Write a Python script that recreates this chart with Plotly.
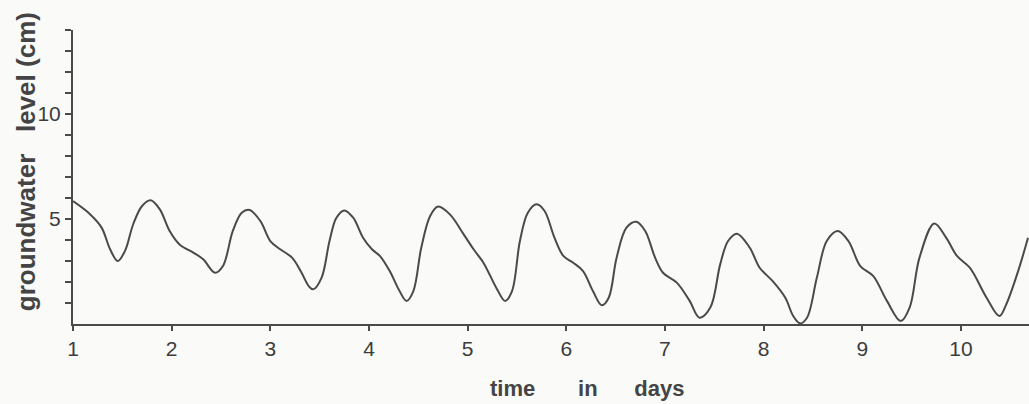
import plotly.graph_objects as go

# groundwater level (days, cm)
days = [1.00, 1.17, 1.29, 1.375, 1.453, 1.527, 1.61, 1.70, 1.787, 1.88,
        1.98, 2.08, 2.22, 2.32, 2.44, 2.52, 2.62, 2.71, 2.79, 2.90,
        3.00, 3.10, 3.22, 3.31, 3.39, 3.435, 3.52, 3.60, 3.67, 3.75,
        3.84, 3.94, 4.03, 4.11, 4.21, 4.31, 4.38, 4.45, 4.53, 4.62,
        4.70, 4.82, 4.96, 5.06, 5.16, 5.29, 5.38, 5.45, 5.53, 5.61,
        5.70, 5.78, 5.88, 5.97, 6.07, 6.17, 6.27, 6.36, 6.43, 6.51,
        6.61, 6.71, 6.80, 6.90, 6.98, 7.12, 7.25, 7.35, 7.46, 7.56,
        7.64, 7.73, 7.86, 7.96, 8.09, 8.22, 8.30, 8.37, 8.44, 8.54,
        8.64, 8.75, 8.86, 8.98, 9.11, 9.25, 9.39, 9.48, 9.58, 9.73,
        9.85, 9.96, 10.09, 10.26, 10.39, 10.46, 10.58, 10.68]
level = [5.85, 5.24, 4.59, 3.57, 3.00, 3.48, 4.75, 5.62, 5.89, 5.46,
         4.43, 3.79, 3.40, 3.08, 2.44, 2.76, 4.43, 5.30, 5.43, 4.90,
         3.95, 3.56, 3.16, 2.50, 1.80, 1.65, 2.21, 3.95, 5.06, 5.41,
         5.06, 4.11, 3.56, 3.24, 2.52, 1.57, 1.10, 1.57, 3.63, 5.14,
         5.59, 5.22, 4.27, 3.56, 2.92, 1.73, 1.10, 1.57, 3.95, 5.30,
         5.70, 5.38, 4.11, 3.24, 2.92, 2.52, 1.57, 0.89, 1.25, 3.16,
         4.59, 4.87, 4.43, 3.16, 2.44, 1.97, 1.10, 0.30, 0.78, 2.84,
         3.95, 4.30, 3.63, 2.68, 2.05, 1.25, 0.38, 0.03, 0.30, 2.21,
         3.95, 4.43, 3.95, 2.76, 2.29, 1.10, 0.14, 0.78, 3.16, 4.79,
         4.11, 3.24, 2.68, 1.25, 0.38, 0.94, 2.52, 4.11]

x_ticks = list(range(1, 11))
y_ticks = list(range(1, 15))
y_tick_text = ["5" if v == 5 else "10" if v == 10 else "" for v in y_ticks]

ink = "#4a4a4a"
paper = "#fafaf9"
font = "Liberation Sans"

fig = go.Figure()
fig.add_trace(go.Scatter(x=days, y=level, mode="lines",
                         line=dict(color=ink, width=2, shape="spline", smoothing=1),
                         hoverinfo="skip"))

fig.update_layout(
    width=1029, height=404,
    margin=dict(l=73, r=0, t=30, b=80),
    paper_bgcolor=paper, plot_bgcolor=paper,
    showlegend=False,
    font=dict(family=font, color="#3c3c3c"),
)
fig.update_xaxes(range=[1, 10.69], tickvals=x_ticks, showgrid=False, zeroline=False,
                 showline=True, linecolor=ink, linewidth=2,
                 ticks="outside", ticklen=5, tickwidth=1.5, tickcolor=ink,
                 tickfont=dict(size=21, family=font, color="#3c3c3c"))
fig.update_yaxes(range=[0, 14], tickvals=y_ticks, ticktext=y_tick_text,
                 showgrid=False, zeroline=False,
                 showline=True, linecolor=ink, linewidth=2,
                 ticks="outside", ticklen=6, tickwidth=1.5, tickcolor=ink,
                 tickfont=dict(size=21, family=font, color="#3c3c3c"))

nb = "\u00a0"
fig.add_annotation(text="time" + nb * 7 + "in" + nb * 6 + "days",
                   xref="paper", yref="paper", x=0.5377, y=-0.218,
                   xanchor="center", yanchor="middle", showarrow=False,
                   font=dict(size=22, family=font, color="#444444", weight="bold"))
fig.add_annotation(text="groundwater" + nb * 3 + "level" + nb + "(cm)",
                   xref="paper", yref="paper", x=-0.049, y=0.551, textangle=-90,
                   xanchor="center", yanchor="middle", showarrow=False,
                   font=dict(size=26, family=font, color="#444444", weight="bold"))

# drop the browser's default body margin so the figure fills the window
fig.write_html("out.html",
               config={"displayModeBar": False},
               post_script="document.body.style.margin='0';"
                           "document.body.style.overflow='hidden';")
